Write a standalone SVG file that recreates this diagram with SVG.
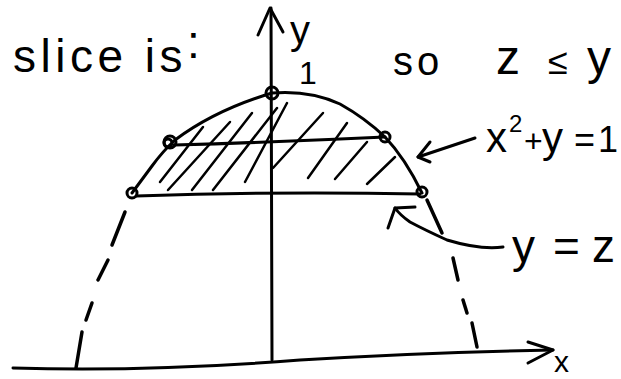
<svg xmlns="http://www.w3.org/2000/svg" width="621" height="379" viewBox="0 0 621 379">
<style>
.ln{fill:none;stroke:#000;stroke-width:3;stroke-linecap:round;stroke-linejoin:round}
.thin{fill:none;stroke:#000;stroke-width:2.5;stroke-linecap:round}
.dash{fill:none;stroke:#000;stroke-width:3.5;stroke-linecap:round}
.pt{fill:none;stroke:#000;stroke-width:3}
.t{font-family:"Liberation Sans",Arial,sans-serif;fill:#000}
</style>
<rect width="621" height="379" fill="#fff"/>

<g id="axes">
<path class="ln" d="M271,8 Q272,180 272,360"/>
<polyline class="ln" points="258,35 270,8 283,32"/>
<path class="ln" d="M13,368 Q150,372 300,360 Q430,352 553,350"/>
<polyline class="ln" points="528,342 553,350 528,363"/>
</g>

<g id="parabola">
<path class="ln" d="M132,193 L152,166 Q163,151 175,140 Q215,110 272,93 Q310,90 340,104 Q365,118 385,137 Q405,158 422,193"/>
<g class="dash">
<line x1="125" y1="212" x2="112" y2="245"/>
<line x1="108" y1="260" x2="98" y2="280"/>
<line x1="92" y1="303" x2="86" y2="320"/>
<line x1="82" y1="332" x2="76" y2="368"/>
<line x1="427" y1="200" x2="442" y2="233"/>
<line x1="453" y1="258" x2="458" y2="280"/>
<line x1="463" y1="300" x2="467" y2="313"/>
<line x1="472" y1="323" x2="477" y2="347"/>
</g>
</g>

<g id="slice">
<path class="ln" d="M174,145 Q280,142 385,137"/>
<path class="ln" d="M136,196 Q280,191 420,194"/>
<g class="thin">
<line x1="203" y1="127" x2="160" y2="182"/>
<line x1="230" y1="122" x2="168" y2="190"/>
<line x1="252" y1="113" x2="192" y2="190"/>
<line x1="277" y1="108" x2="213" y2="190"/>
<line x1="287" y1="103" x2="245" y2="182"/>
<line x1="323" y1="113" x2="273" y2="168"/>
<line x1="347" y1="123" x2="308" y2="178"/>
<line x1="367" y1="142" x2="335" y2="179"/>
<line x1="395" y1="157" x2="367" y2="184"/>
</g>
</g>

<g id="points">
<circle class="pt" cx="272" cy="93" r="6"/>
<circle class="pt" cx="170" cy="142" r="6"/>
<circle class="pt" cx="168" cy="143" r="4"/>
<circle class="pt" cx="385" cy="137" r="5"/>
<circle class="pt" cx="132" cy="193" r="5"/>
<circle class="pt" cx="422" cy="192" r="5"/>
</g>

<g id="connectors">
<path class="ln" d="M475,138 Q445,148 418,157"/>
<polyline class="ln" points="430,142 418,157 430,162"/>
<path class="ln" d="M503,247 Q480,250 447,240 Q425,230 410,222 Q400,215 395,208"/>
<polyline class="ln" points="388,228 395,208 415,207"/>
</g>

<g id="labels">
<text class="t" x="13" y="72" font-size="46" letter-spacing="4.5">slice is<tspan dy="-14">:</tspan></text>
<text class="t" x="393" y="75" font-size="40" letter-spacing="4">so</text>
<text class="t" x="496" y="74" font-size="48">z<tspan x="548" font-size="36">≤</tspan><tspan x="587">y</tspan></text>
<text class="t" x="290" y="44" font-size="40">y</text>
<text class="t" x="299" y="84" font-size="32">1</text>
<text class="t" x="486" y="152" font-size="42">x<tspan x="509" dy="-20" font-size="24">2</tspan><tspan x="524" dy="20" font-size="32">+</tspan><tspan x="542">y</tspan><tspan x="574" font-size="36">=</tspan><tspan x="598" font-size="36">1</tspan></text>
<text class="t" x="512" y="262" font-size="46">y<tspan x="553">=</tspan><tspan x="592">z</tspan></text>
<text class="t" x="554" y="372" font-size="30">x</text>
</g>
</svg>
